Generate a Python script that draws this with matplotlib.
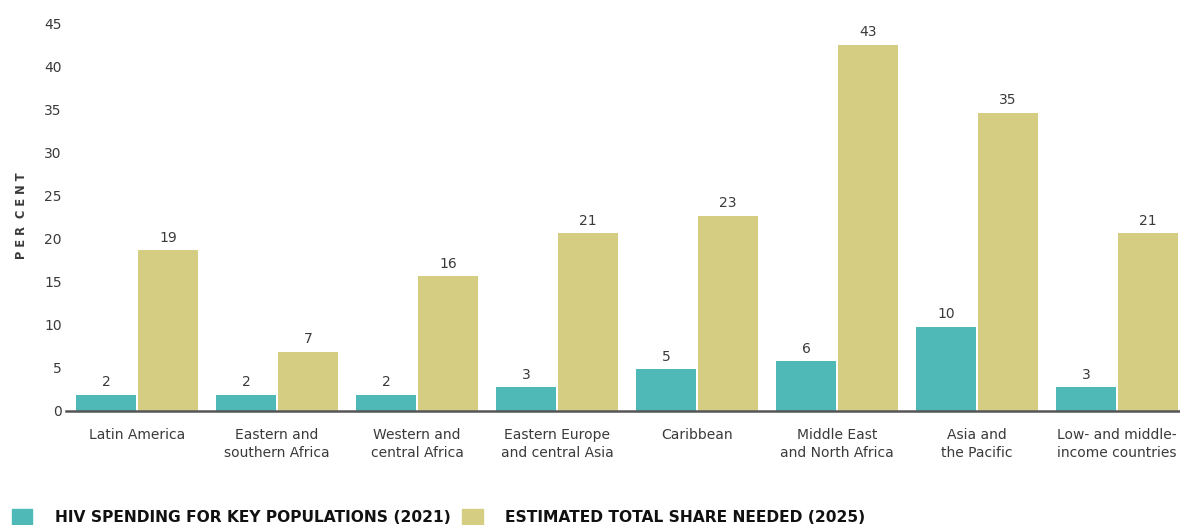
import numpy as np
import matplotlib.pyplot as plt
from matplotlib.patches import Rectangle

# Data
regions = ['Latin America', 'Eastern and\nsouthern Africa', 'Western and\ncentral Africa',
           'Eastern Europe\nand central Asia', 'Caribbean', 'Middle East\nand North Africa',
           'Asia and\nthe Pacific', 'Low- and middle-\nincome countries']
spending_2021 = [1.8, 1.8, 1.8, 2.7, 4.8, 5.7, 9.7, 2.7]
spending_labels = ['2', '2', '2', '3', '5', '6', '10', '3']
needed_2025 = [18.6, 6.8, 15.6, 20.6, 22.6, 42.5, 34.6, 20.6]
needed_labels = ['19', '7', '16', '21', '23', '43', '35', '21']
yticks = [0, 5, 10, 15, 20, 25, 30, 35, 40, 45]

teal = '#4fb9b8'
khaki = '#d5cd82'
text_col = '#3a3a3a'

plt.rcParams['font.family'] = ['DejaVu Sans']

fig = plt.figure(figsize=(11.8, 5.25), dpi=100)
ax = fig.add_axes([0.056, 0.218, 0.944, 0.738])

x = np.arange(len(regions))
w = 0.43
off = 0.222
b1 = ax.bar(x - off, spending_2021, w, color=teal)
b2 = ax.bar(x + off, needed_2025, w, color=khaki)

for bars, labs in ((b1, spending_labels), (b2, needed_labels)):
    for rect, lab in zip(bars, labs):
        ax.annotate(lab, (rect.get_x() + rect.get_width() / 2, rect.get_height()),
                    xytext=(0, 4), textcoords='offset points', ha='center', va='bottom',
                    fontsize=10, color=text_col)

ax.set_xlim(-0.507, 7.45)
ax.set_ylim(0, 45)
ax.set_yticks(yticks)
ax.set_xticks(x)
ax.set_xticklabels(regions, fontsize=10, color=text_col, linespacing=1.4)
ax.tick_params(axis='both', length=0, labelsize=10, labelcolor=text_col)
ax.tick_params(axis='x', pad=12.5)
ax.tick_params(axis='y', pad=3)
for s in ('top', 'right', 'left'):
    ax.spines[s].set_visible(False)
ax.spines['bottom'].set_color('#555555')
ax.spines['bottom'].set_linewidth(1.8)

fig.text(0.018, 0.589, 'P E R  C E N T', rotation=90, ha='center', va='center',
         fontsize=8.3, fontweight='bold', color=text_col)

# legend
fig.patches.append(Rectangle((12 / 1180, 0.0), 20 / 1180, 16 / 525, color=teal,
                             transform=fig.transFigure, figure=fig))
fig.text(55 / 1180, 1 - 518 / 525, 'HIV SPENDING FOR KEY POPULATIONS (2021)',
         fontsize=11.2, fontweight='bold', color='#111111', va='center')
fig.patches.append(Rectangle((462 / 1180, 0.0), 21 / 1180, 16 / 525, color=khaki,
                             transform=fig.transFigure, figure=fig))
fig.text(505 / 1180, 1 - 518 / 525, 'ESTIMATED TOTAL SHARE NEEDED (2025)',
         fontsize=11.2, fontweight='bold', color='#111111', va='center')

fig.savefig('out.png', dpi=100)
